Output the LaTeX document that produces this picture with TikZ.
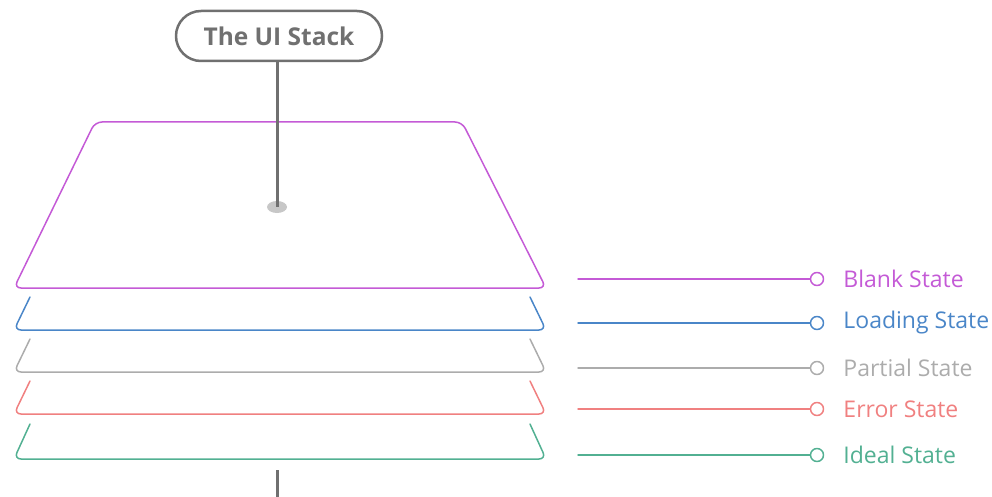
\documentclass[tikz,border=0pt]{standalone}
\usepackage{fontspec}
\setmainfont{Open Sans}
\usetikzlibrary{positioning}
\usetikzlibrary{shapes.geometric}
\definecolor{blankpurple}{RGB}{196,90,214}
\definecolor{loadblue}{RGB}{74,134,200}
\definecolor{partialgray}{RGB}{172,172,172}
\definecolor{errorred}{RGB}{240,128,128}
\definecolor{idealgreen}{RGB}{82,176,146}
\definecolor{polegray}{RGB}{112,112,112}
\tikzset{
  layer/.style={line width=1.5pt,rounded corners=7pt},
  statedot/.style={circle,draw=#1,line width=1.5pt,fill=white,minimum size=13pt,inner sep=0pt},
  statelabel/.style={text=#1,inner sep=0pt,anchor=west,font=\fontsize{23}{27}\selectfont}
}
\begin{document}
\begin{tikzpicture}[line cap=round,line join=round,x=1pt,y=-1pt]
\useasboundingbox (0,0) rectangle (992,497);
% title and pin
\node[draw=polegray,line width=2.5pt,rounded corners=25pt,minimum width=206pt,minimum height=50pt,
  text=polegray,font=\bfseries\fontsize{24.5}{28}\selectfont] (title) at (279,36) {The UI Stack};
\node[ellipse,fill=black!22,minimum width=20pt,minimum height=12pt,inner sep=0pt] (pin) at (277,207) {};
% top layer
\draw[layer,blankpurple] (95,122) -- (462,122) -- (546,288) -- (14,288) -- cycle;
\draw[polegray,line width=3pt,line cap=butt] (title.south -| pin) -- (pin.center);
% lower layers
\foreach \ytop/\ybot/\c in {297/330/loadblue,339/372/partialgray,381/414/errorred,424/459/idealgreen}
  \draw[layer,\c] (30,\ytop) -- (14,\ybot) -- (546,\ybot) -- (530,\ytop);
\coordinate (stem-top) at (277,470);
\coordinate (stem-bot) at (277,497);
\draw[polegray,line width=3pt,line cap=butt] (stem-top) -- (stem-bot);
% state legend
\foreach \y/\c/\t/\n in {279/blankpurple/Blank State/blank,323/loadblue/Loading State/loading,
  368/partialgray/Partial State/partial,409/errorred/Error State/error,455/idealgreen/Ideal State/ideal}{
  \coordinate (\n-start) at (578,\y);
  \node[statedot=\c] (\n-dot) at (817,\y) {};
  \node[statelabel=\c,right=19pt of \n-dot] (\n-label) {\t};
  \draw[\c,line width=1.5pt] (\n-start) -- (\n-dot);
}
\end{tikzpicture}
\end{document}
